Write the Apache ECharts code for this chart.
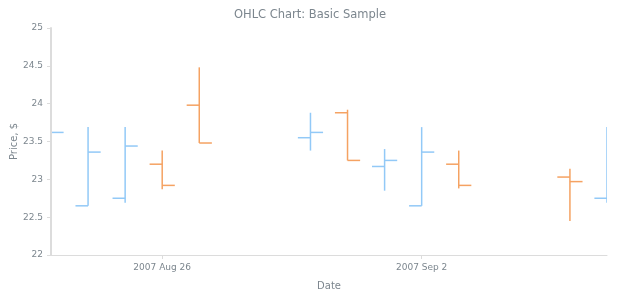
<!DOCTYPE html>
<html>
<head>
<meta charset="utf-8">
<script src="https://cdn.jsdelivr.net/npm/echarts@6/dist/echarts.min.js"></script>
<style>
html,body{margin:0;padding:0;background:#fff;}
#chart{width:620px;height:300px;}
</style>
</head>
<body>
<div id="chart"></div>
<script>
// Category days shown on the axis
var days = ['2007 Aug 23','2007 Aug 24','2007 Aug 25','2007 Aug 26','2007 Aug 27','2007 Aug 28','2007 Aug 29','2007 Aug 30','2007 Aug 31','2007 Sep 1','2007 Sep 2','2007 Sep 3','2007 Sep 4','2007 Sep 5','2007 Sep 6','2007 Sep 7'];
// Trading days (subset of days) and OHLC values
var tradeDays = ['2007 Aug 23','2007 Aug 24','2007 Aug 25','2007 Aug 26','2007 Aug 27','2007 Aug 30','2007 Aug 31','2007 Sep 1','2007 Sep 2','2007 Sep 3','2007 Sep 6','2007 Sep 7'];
var openVals  = [23.55, 22.65, 22.75, 23.20, 23.98, 23.55, 23.88, 23.17, 22.65, 23.20, 23.03, 22.75];
var highVals  = [23.88, 23.69, 23.69, 23.38, 24.48, 23.88, 23.92, 23.40, 23.69, 23.38, 23.14, 23.69];
var lowVals   = [23.38, 22.65, 22.69, 22.87, 23.48, 23.38, 23.25, 22.85, 22.65, 22.88, 22.45, 22.69];
var closeVals = [23.62, 23.36, 23.44, 22.92, 23.48, 23.62, 23.25, 23.25, 23.36, 22.92, 22.97, 23.44];
var yTicks = ['22','22.5','23','23.5','24','24.5','25'];
var labelDays = ['2007 Aug 26','2007 Sep 2'];

var risingColor = '#92c9f7';
var fallingColor = '#f5a262';
var axisColor = '#dcdcdc';
var textColor = '#7c868e';

var seriesData = tradeDays.map(function(d, i){
  return [days.indexOf(d), openVals[i], highVals[i], lowVals[i], closeVals[i]];
});

var chart = echarts.init(document.getElementById('chart'), null, {renderer:'canvas'});
chart.setOption({
  animation: false,
  backgroundColor: '#ffffff',
  title: {
    text: 'OHLC Chart: Basic Sample',
    left: 'center', top: 4,
    textStyle: {fontFamily: 'DejaVu Sans', fontSize: 11.5, fontWeight: 'normal', color: textColor}
  },
  grid: {left: 51, right: 13, top: 28, bottom: 45, containLabel: false, outerBoundsMode: 'none'},
  xAxis: {
    type: 'category',
    data: days,
    boundaryGap: false,
    name: 'Date',
    nameLocation: 'middle',
    nameGap: 26,
    nameTextStyle: {fontFamily: 'DejaVu Sans', fontSize: 10, color: textColor},
    axisLine: {show: true, lineStyle: {color: axisColor, width: 1}},
    axisTick: {show: true, length: 4, lineStyle: {color: axisColor},
      interval: function(idx){ return labelDays.indexOf(days[idx]) >= 0; }},
    axisLabel: {
      fontFamily: 'DejaVu Sans', fontSize: 9, color: textColor, margin: 8,
      interval: function(idx){ return labelDays.indexOf(days[idx]) >= 0; }
    },
    splitLine: {show: false}
  },
  yAxis: {
    type: 'value',
    min: 22, max: 25, interval: 0.5,
    z: 50,
    name: 'Price, $',
    nameLocation: 'middle',
    nameGap: 32,
    nameMoveOverlap: false,
    nameRotate: 90,
    nameTextStyle: {fontFamily: 'DejaVu Sans', fontSize: 10, color: textColor},
    axisLine: {show: true, lineStyle: {color: axisColor, width: 2}},
    axisTick: {show: true, length: 4, lineStyle: {color: axisColor}},
    axisLabel: {
      fontFamily: 'DejaVu Sans', fontSize: 9, color: textColor, margin: 8,
      formatter: function(v){ var s = String(v); return yTicks.indexOf(s) >= 0 ? s : ''; }
    },
    splitLine: {show: false}
  },
  series: [{
    type: 'custom',
    clip: true,
    z: 1,
    data: seriesData,
    renderItem: function(params, api){
      var x = api.value(0), o = api.value(1), h = api.value(2), l = api.value(3), c = api.value(4);
      var pO = api.coord([x, o]), pH = api.coord([x, h]), pL = api.coord([x, l]), pC = api.coord([x, c]);
      var w = api.size([1, 0])[0] * 0.34;
      var color = c >= o ? risingColor : fallingColor;
      var st = {stroke: color, lineWidth: 1.5};
      return {
        type: 'group',
        children: [
          {type: 'line', shape: {x1: pH[0], y1: pH[1], x2: pL[0], y2: pL[1]}, style: st},
          {type: 'line', shape: {x1: pO[0] - w, y1: pO[1], x2: pO[0], y2: pO[1]}, style: st},
          {type: 'line', shape: {x1: pC[0], y1: pC[1], x2: pC[0] + w, y2: pC[1]}, style: st}
        ]
      };
    }
  }]
});
</script>
</body>
</html>
